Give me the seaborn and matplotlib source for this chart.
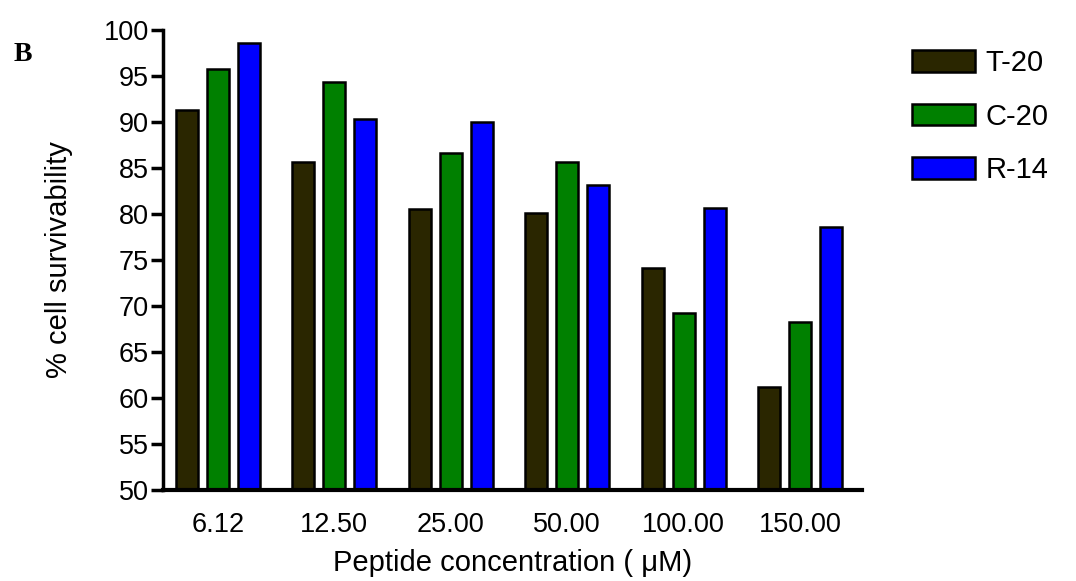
import matplotlib
matplotlib.use("Agg")
import matplotlib.pyplot as plt
import seaborn as sns
import pandas as pd

# Cell survivability (%) for each peptide at each concentration
concentrations = ["6.12", "12.50", "25.00", "50.00", "100.00", "150.00"]
peptides = ["T-20", "C-20", "R-14"]
t20 = [91.3, 85.7, 80.5, 80.1, 74.1, 61.2]
c20 = [95.8, 94.3, 86.6, 85.7, 69.2, 68.3]
r14 = [98.6, 90.3, 90.0, 83.2, 80.6, 78.6]
colors = ["#2a2600", "#008000", "#0000ff"]

rows = []
for name, vals in zip(peptides, [t20, c20, r14]):
    for c, v in zip(concentrations, vals):
        rows.append({"conc": c, "surv": v, "peptide": name})
df = pd.DataFrame(rows)

sns.set_style("white")
plt.rcParams["font.family"] = ["Liberation Sans", "DejaVu Sans"]
plt.rcParams["text.color"] = "black"
plt.rcParams["axes.labelcolor"] = "black"
plt.rcParams["xtick.color"] = "black"
plt.rcParams["ytick.color"] = "black"

fig = plt.figure(figsize=(10.76, 5.81), dpi=100)
ax = fig.add_axes([0.1515, 0.1566, 0.6496, 0.7918])

sns.barplot(data=df, x="conc", y="surv", hue="peptide", order=concentrations,
            hue_order=peptides, palette=colors, saturation=1, edgecolor="black",
            linewidth=1.8, width=0.8, gap=0.3, errorbar=None, ax=ax)

ax.set_ylim(50, 100)
ax.set_xlim(-0.47, 5.53)
ax.set_yticks(range(50, 101, 5))
ax.tick_params(axis="y", direction="out", length=9, width=2.5, color="black",
               labelsize=19.5, pad=1, left=True)
ax.tick_params(axis="x", length=0, labelsize=19.5, pad=16)

for side in ["top", "right"]:
    ax.spines[side].set_visible(False)
ax.spines["left"].set_linewidth(2.5)
ax.spines["left"].set_color("black")
ax.spines["bottom"].set_linewidth(3)
ax.spines["bottom"].set_color("black")

ax.set_xlabel("Peptide concentration ( μM)", fontsize=21, labelpad=8)
ax.set_ylabel("% cell survivability", fontsize=21, labelpad=22)

handles, labels = ax.get_legend_handles_labels()
ax.legend(handles, labels, loc="upper left", bbox_to_anchor=(1.0715, 0.958),
          frameon=False, fontsize=21, handlelength=2.16, handleheight=0.75,
          labelspacing=0.87, handletextpad=0.35, borderpad=0, borderaxespad=0)

fig.text(0.013, 0.895, "B", fontsize=20, fontweight="bold",
         family=["Liberation Serif", "DejaVu Serif"])

fig.savefig("out.png", dpi=100)
